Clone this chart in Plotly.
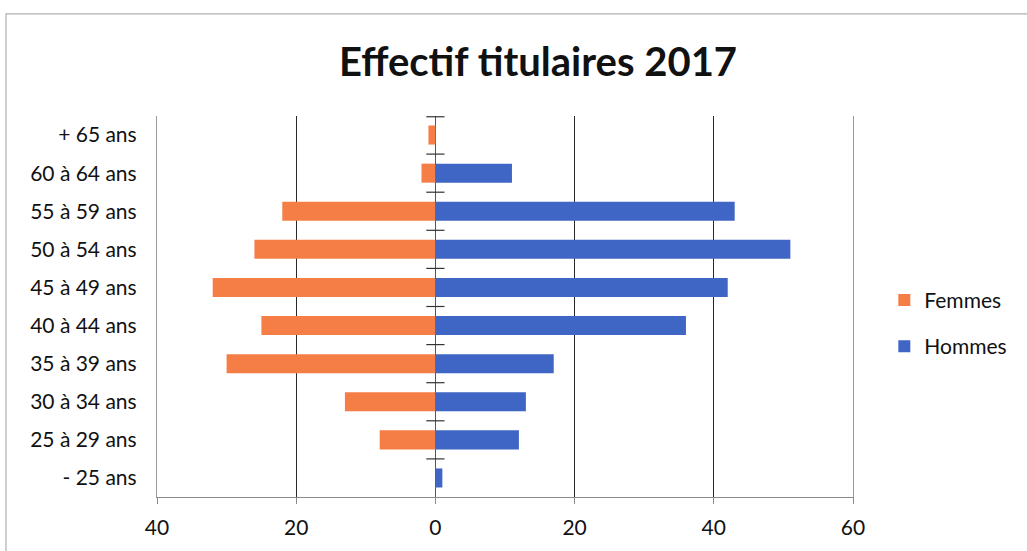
import plotly.graph_objects as go

# Age groups, bottom to top
age_groups = ["- 25 ans", "25 à 29 ans", "30 à 34 ans", "35 à 39 ans", "40 à 44 ans",
              "45 à 49 ans", "50 à 54 ans", "55 à 59 ans", "60 à 64 ans", "+ 65 ans"]
femmes = [0, 8, 13, 30, 25, 32, 26, 22, 2, 1]
hommes = [1, 12, 13, 17, 36, 42, 51, 43, 11, 0]

x_ticks = [-40, -20, 0, 20, 40, 60]
x_tick_labels = ["40", "20", "0", "20", "40", "60"]

ORANGE = "#F57E47"
BLUE = "#3F66C4"
FONT = "Lato"
TEXT = "#111111"

W, H = 1027, 551
ML, MR, MT, MB = 157, 174, 116, 51
plot_w = W - ML - MR
plot_h = H - MT - MB

pos = list(range(len(age_groups)))

fig = go.Figure()
fig.add_trace(go.Bar(
    y=pos, x=[-v for v in femmes], orientation="h", name="Femmes",
    marker=dict(color=ORANGE, line=dict(width=0)), width=0.5,
    legendgroup="f", customdata=femmes,
    hovertemplate="%{customdata}<extra>Femmes</extra>",
))
fig.add_trace(go.Bar(
    y=pos, x=hommes, orientation="h", name="Hommes",
    marker=dict(color=BLUE, line=dict(width=0)), width=0.5,
    legendgroup="h",
))

# crossing tick marks on the vertical zero axis, at category boundaries
bounds = [p + 0.5 for p in pos[:-1]] + [len(pos) - 0.5 - 0.02]
fig.add_trace(go.Scatter(
    x=[0] * len(bounds), y=bounds, mode="markers", showlegend=False, hoverinfo="skip",
    marker=dict(symbol="line-ew", size=13, line=dict(width=1.2, color="#333333")),
    cliponaxis=False,
))

# outer chart frame, in paper coordinates
fx0 = (6 - ML) / plot_w
fx1 = (W + 20 - ML) / plot_w
fy1 = 1 + (MT - 13) / plot_h
fy0 = -(MB + 20) / plot_h

fig.update_layout(
    width=W, height=H,
    margin=dict(l=ML, r=MR, t=MT, b=MB, pad=0),
    paper_bgcolor="white", plot_bgcolor="white",
    barmode="relative",
    font=dict(family=FONT, color=TEXT, size=20),
    title=dict(
        text="<b>Effectif titulaires 2017</b>",
        font=dict(family=FONT, size=40, color=TEXT),
        x=538 / W, xref="container", xanchor="center",
        y=1 - 62 / H, yref="container", yanchor="middle",
    ),
    xaxis=dict(
        range=[-40, 60], tickmode="array", tickvals=x_ticks, ticktext=x_tick_labels,
        showgrid=True, gridcolor="#2a2a2a", gridwidth=1.3,
        zeroline=True, zerolinecolor="#555555", zerolinewidth=1.2,
        showline=True, linecolor="#8a8a8a", linewidth=1.2,
        ticks="outside", ticklen=6, tickcolor="#8a8a8a",
        ticklabelstandoff=6,
        tickfont=dict(size=21, family=FONT, color=TEXT),
        fixedrange=True,
    ),
    yaxis=dict(
        range=[-0.5, len(pos) - 0.5], tickmode="array", tickvals=pos, ticktext=age_groups,
        showgrid=False, zeroline=False,
        showline=True, mirror=True, linecolor="#9a9a9a", linewidth=1.2,
        ticks="", ticklabelstandoff=15,
        tickfont=dict(size=21, family=FONT, color=TEXT),
        fixedrange=True,
    ),
    legend=dict(
        x=1.045, y=0.456, xanchor="left", yanchor="middle",
        font=dict(size=21, family=FONT, color=TEXT),
        traceorder="grouped", tracegroupgap=16, itemwidth=30,
        bgcolor="rgba(0,0,0,0)",
    ),
    shapes=[dict(
        type="rect", xref="paper", yref="paper",
        x0=fx0, x1=fx1, y0=fy0, y1=fy1,
        line=dict(color="#b0b0b0", width=1.2), layer="below",
    )],
    showlegend=True,
)

fig.write_html("out.html")
